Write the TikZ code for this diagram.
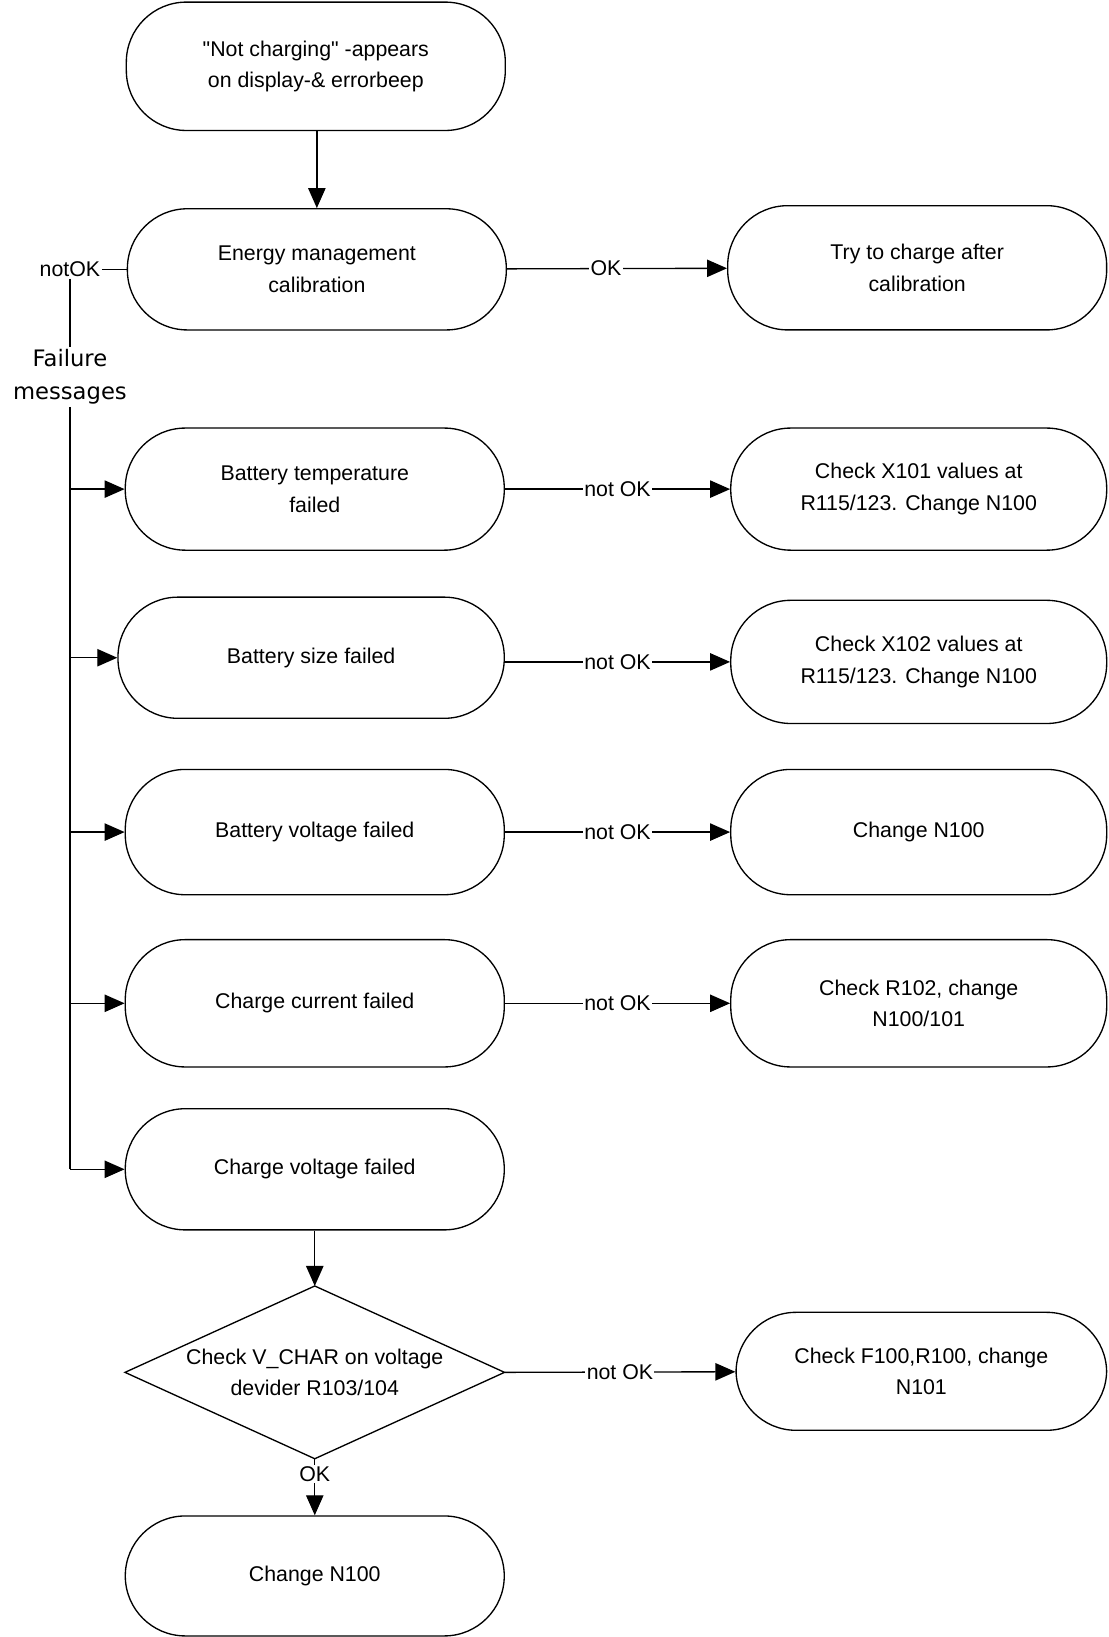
\documentclass[tikz,border=0pt]{standalone}
\usepackage{fontspec}
\setmainfont{Liberation Sans}
\newfontfamily\qfont{Liberation Sans}
\newfontfamily\failfont{DejaVu Sans}
\usetikzlibrary{arrows.meta}
\begin{document}
\begin{tikzpicture}[x=0.7832pt,y=-0.7832pt,
 txt/.style={font=\fontsize{16}{23.5}\selectfont},
 term/.style={txt, draw, line width=1pt, rectangle, rounded corners=45pt, minimum width=284.3pt, minimum height=91.6pt, inner sep=0pt, align=center},
 lbl/.style={txt, fill=white, inner sep=1pt},
 arr/.style={line width=1pt, -{Triangle[length=15pt,width=13pt]}},
 ln/.style={line width=1pt}]
\useasboundingbox (0,0) rectangle (1062,1568);
% left column
\node[term, minimum height=96.3pt] (start) at (302.5,63.5) {{\qfont"}Not charging{\qfont"} -appears\\ on display-\& errorbeep};
\node[term, minimum height=90.9pt] (energy) at (303.5,258) {Energy management\\calibration};
\node[term] (bt) at (301.5,468.5) {Battery temperature\\failed};
\node[term, minimum width=289.8pt, minimum height=90.9pt] (bs) at (298,630) {Battery size failed};
\node[term, minimum height=94pt] (bv) at (301.5,797) {Battery voltage failed};
\node[term, minimum height=95.5pt] (cc) at (301.5,961) {Charge current failed};
\node[term, minimum height=90.9pt] (cvf) at (301.5,1120) {Charge voltage failed};
\node[minimum width=284.3pt, minimum height=129.2pt, inner sep=0pt] (dia) at (301.5,1314.5) {};
\draw[ln] (dia.west) -- (dia.north) -- (dia.east) -- (dia.south) -- cycle;
\node[txt, align=center] (diat) at (dia.center) {Check V\_CHAR on voltage\\devider R103/104};
\node[term, minimum height=90pt] (n100) at (301.5,1509.5) {Change N100};
% right column
\node[term, minimum height=93.2pt] (try) at (878.5,256.5) {Try to charge after\\calibration};
\node[term, minimum width=282pt] (x101) at (880,468.5) {Check X101 values at\\R115/123. Change N100};
\node[term, minimum width=282pt, minimum height=92.4pt] (x102) at (880,634) {Check X102 values at\\R115/123. Change N100};
\node[term, minimum width=282pt, minimum height=94pt] (cn1) at (880,797) {Change N100};
\node[term, minimum width=282pt, minimum height=95.5pt] (r102) at (880,961) {Check R102, change\\N100/101};
\node[term, minimum width=278pt, minimum height=88.5pt] (f100) at (882.5,1313.5) {Check F100,R100, change\\N101};
% left trunk
\node[txt, inner sep=1pt] (notok) at (67,258) {notOK};
\node[font=\failfont\fontsize{17}{24.3}\selectfont, align=center, inner sep=2pt] (fail) at (67,361) {Failure\\messages};
% connectors
\draw[arr] (start.south -| energy.north) -- (energy.north);
\draw[arr] (energy) -- node[lbl, pos=0.45] {OK} (try);
\draw[ln] (notok) -- (energy);
\draw[ln] (notok) -- (fail);
\draw[ln] (fail.south) -- (fail.south |- cvf.west);
\foreach \n in {bt,bs,bv,cc,cvf} \draw[arr] (fail.south |- \n.west) -- (\n.west);
\draw[arr] (bt) -- node[lbl] {not OK} (x101);
\draw[arr] (bs.east |- x102.west) -- node[lbl] {not OK} (x102.west);
\draw[arr] (bv) -- node[lbl] {not OK} (cn1);
\draw[arr] (cc) -- node[lbl] {not OK} (r102);
\draw[arr] (cvf) -- (dia.north);
\draw[arr] (dia.east) -- node[lbl] {not OK} (f100);
\draw[arr] (dia.south) -- node[lbl, pos=0.27] {OK} (n100);
\end{tikzpicture}
\end{document}
